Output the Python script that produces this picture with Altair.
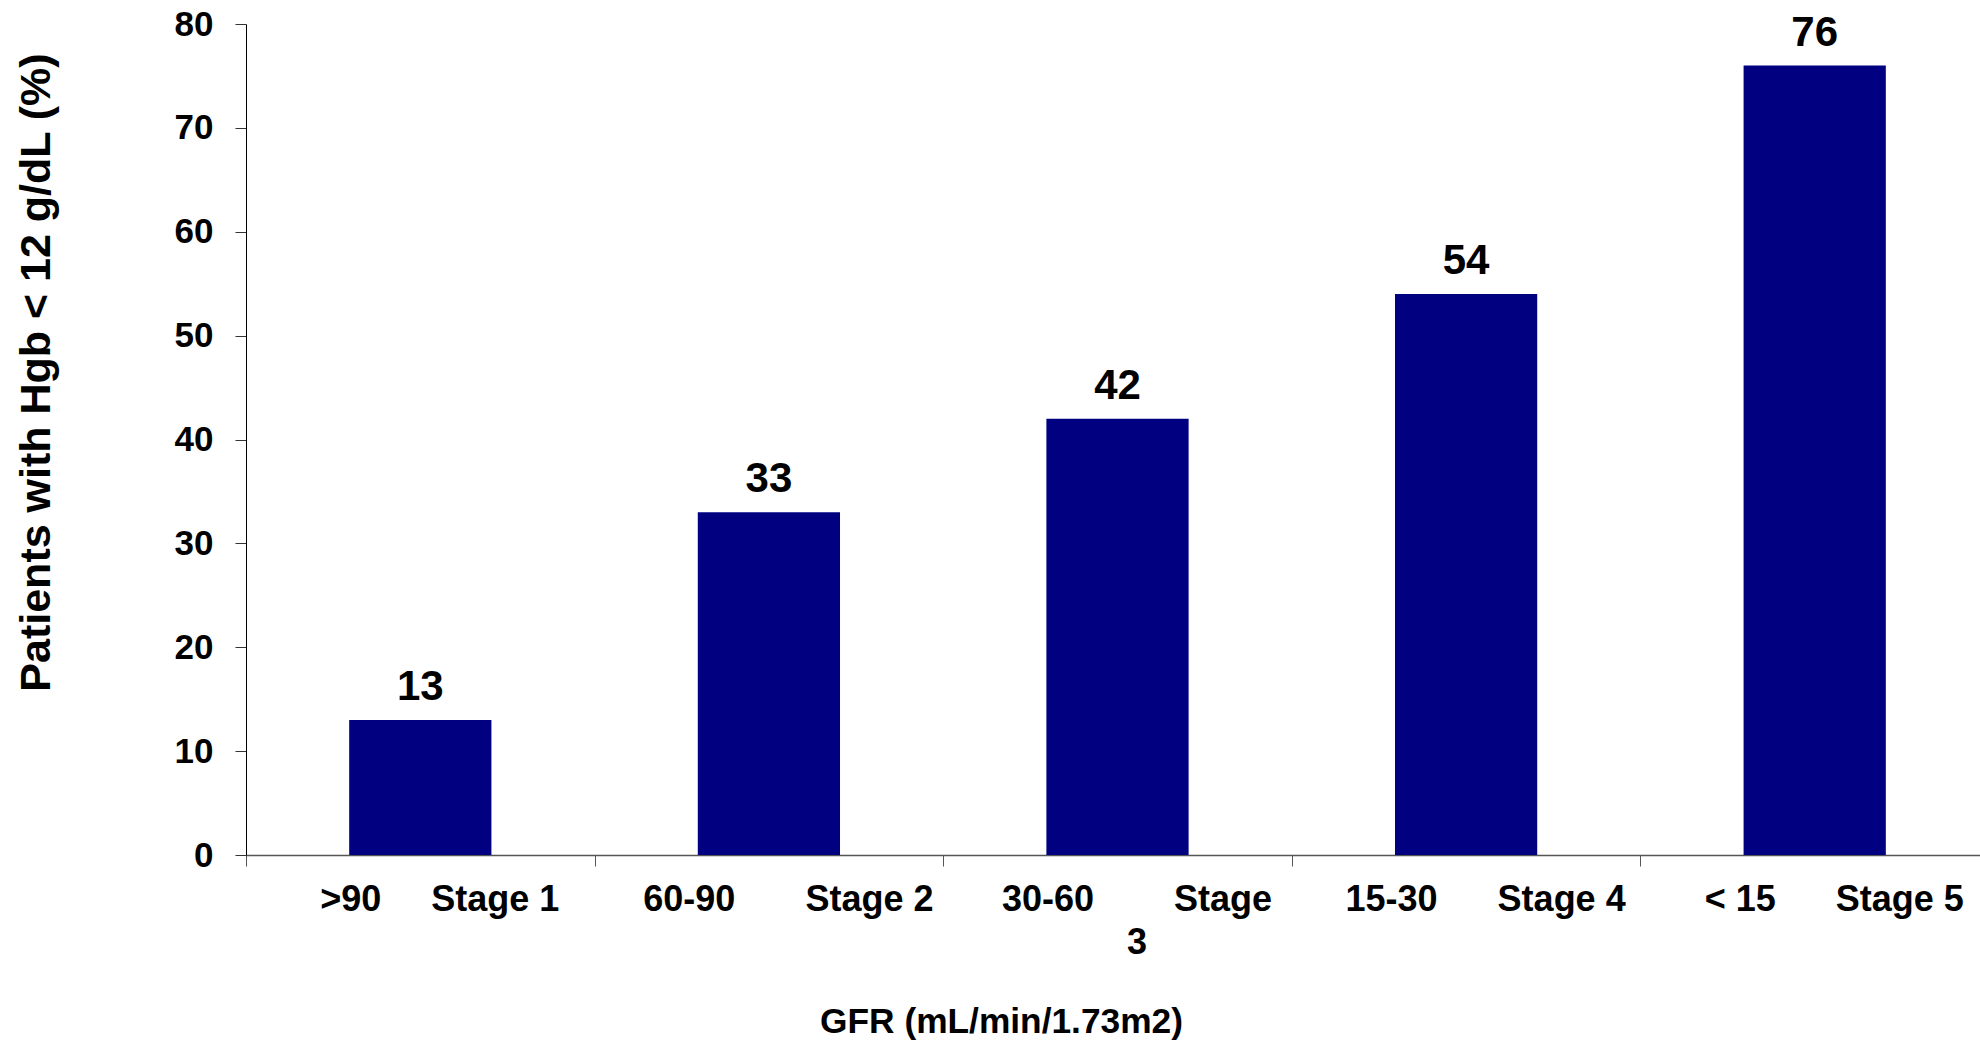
import altair as alt
import pandas as pd

NBSP = "\u00a0"
FONT = "Liberation Sans, Arial, sans-serif"

# Category labels: GFR range and CKD stage (stage 3 wraps onto a second line)
gfr_labels = [
    ">90" + NBSP * 5 + "Stage 1",
    "60-90" + NBSP * 7 + "Stage 2",
    "30-60" + NBSP * 8 + "Stage\n3",
    "15-30" + NBSP * 6 + "Stage 4",
    "<" + NBSP + "15" + NBSP * 6 + "Stage 5",
]

# Share of patients with haemoglobin below 12 g/dL, in percent
pct_low_hgb = [13, 33, 42, 54, 76]

y_ticks = [0, 10, 20, 30, 40, 50, 60, 70, 80]

df = pd.DataFrame({"gfr": gfr_labels, "pct": pct_low_hgb})

x_enc = alt.X(
    "gfr:N",
    sort=gfr_labels,
    scale=alt.Scale(range=[0, 1743], paddingInner=0, paddingOuter=0),
    axis=alt.Axis(
        title="GFR (mL/min/1.73m2)",
        titleFont=FONT,
        titleFontSize=35.3,
        titleFontWeight="bold",
        titleColor="black",
        titleX=755,
        titleY=177,
        titleBaseline="alphabetic",
        labelAngle=0,
        labelFont=FONT,
        labelFontSize=36,
        labelFontWeight="bold",
        labelColor="black",
        labelBaseline="alphabetic",
        labelPadding=44,
        labelLimit=0,
        labelOverlap=False,
        labelLineHeight=43,
        labelOffset=19,
        labelExpr="split(datum.label, '\\n')",
        tickBand="extent",
        tickSize=11,
        tickColor="#555555",
        domainColor="#555555",
        domainWidth=1.5,
        grid=False,
    ),
)

y_enc = alt.Y(
    "pct:Q",
    scale=alt.Scale(domain=[0, 80], nice=False),
    axis=alt.Axis(
        values=y_ticks,
        title="Patients with Hgb < 12 g/dL (%)",
        titleFont=FONT,
        titleFontSize=43,
        titleFontWeight="bold",
        titleColor="black",
        titleX=-197,
        titleY=348,
        titleBaseline="alphabetic",
        labelFont=FONT,
        labelFontSize=35,
        labelFontWeight="bold",
        labelColor="black",
        labelPadding=22,
        tickSize=11,
        tickColor="#333333",
        domainColor="black",
        domainWidth=1,
        grid=False,
    ),
)

bars = alt.Chart().mark_bar(
    color="#000080", width=alt.RelativeBandSize(0.408)
).encode(x=x_enc, y=y_enc)

values = alt.Chart().mark_text(
    dy=-20,
    baseline="alphabetic",
    font=FONT,
    fontSize=42,
    fontWeight="bold",
    color="black",
).encode(x=x_enc, y=y_enc, text="pct:Q")

chart = (
    alt.layer(bars, values, data=df)
    .properties(
        width=1734,
        height=831,
        autosize=alt.AutoSizeParams(type="none"),
        padding={"left": 246, "top": 24, "right": 0, "bottom": 187},
    )
    .configure_view(strokeWidth=0)
)

chart.save("out.html", embed_options={"renderer": "svg", "actions": False})
